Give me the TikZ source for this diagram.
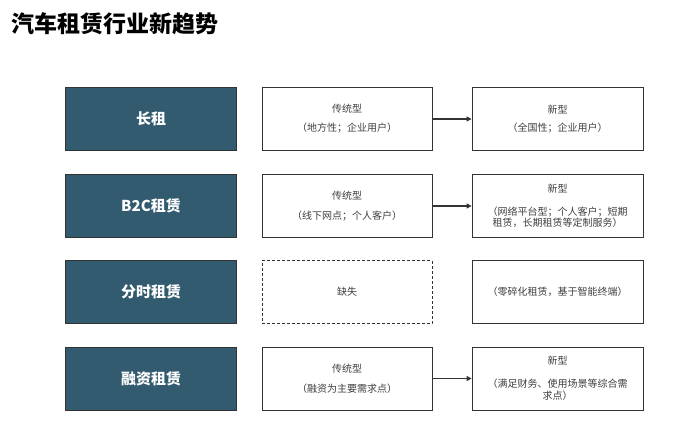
\documentclass[tikz,border=0pt]{standalone}
\usepackage{fontspec}
\setmainfont{Liberation Sans}
\newfontfamily\cjk{Noto Sans CJK SC}
\usetikzlibrary{arrows.meta}
\definecolor{navy}{HTML}{335B70}
\definecolor{txt}{HTML}{404040}
\definecolor{edge}{HTML}{333333}
\begin{document}
\begin{tikzpicture}[x=1pt,y=-1pt,
  cat/.style={fill=navy, draw=edge, line width=0.8pt, minimum width=171pt, minimum height=63pt, inner sep=0pt, text=white, font=\cjk\bfseries\fontsize{15}{18}\selectfont},
  info/.style={draw=edge, line width=0.8pt, fill=white, minimum width=170pt, minimum height=63pt, inner sep=0pt, text=txt, align=center, font=\cjk\fontsize{10}{11.5}\selectfont},
  missing/.style={info, dash pattern=on 3pt off 2pt},
  conn/.style={-{Triangle[length=5pt,width=5pt]}, line width=1.6pt, draw=edge},
  ttl/.style={anchor=west, inner sep=0pt, text=black, font=\cjk\bfseries\fontsize{23}{26}\selectfont}]
\useasboundingbox[fill=white] (0,0) rectangle (696,432);
\node[ttl] (title) at (11,24) {汽车租赁行业新趋势};
% left categories
\node[cat] (l1) at (151,119) {长租};
\node[cat] (l2) at (151,206) {B2C租赁};
\node[cat] (l3) at (151,292) {分时租赁};
\node[cat] (l4) at (151,378.5) {融资租赁};
% traditional
\node[info] (m1) at (347,119) {\raisebox{-3pt}{传统型}\\[8.5pt]（地方性；企业用户）};
\node[info] (m2) at (347,206) {传统型\\[8.5pt]（线下网点；个人客户）};
\node[missing] (m3) at (347,292) {缺失};
\node[info] (m4) at (347,378.5) {传统型\\[8.5pt]（融资为主要需求点）};
% new
\node[info, minimum width=171pt] (r1) at (557.5,119) {\raisebox{-3pt}{新型}\\[8.5pt]（全国性；企业用户）};
\node[info, minimum width=171pt] (r2) at (557.5,206) {新型\\[11.5pt]（网络平台型；个人客户；短期\\租赁，长期租赁等定制服务）};
\node[info, minimum width=171pt] (r3) at (557.5,292) {（零碎化租赁，基于智能终端）};
\node[info, minimum width=171pt] (r4) at (557.5,378.5) {新型\\[11.5pt]（满足财务、使用场景等综合需\\求点）};
% connectors
\draw[conn] (m1) -- (r1);
\draw[conn] (m2) -- (r2);
\draw[conn] (m4) -- (r4);
\end{tikzpicture}
\end{document}
